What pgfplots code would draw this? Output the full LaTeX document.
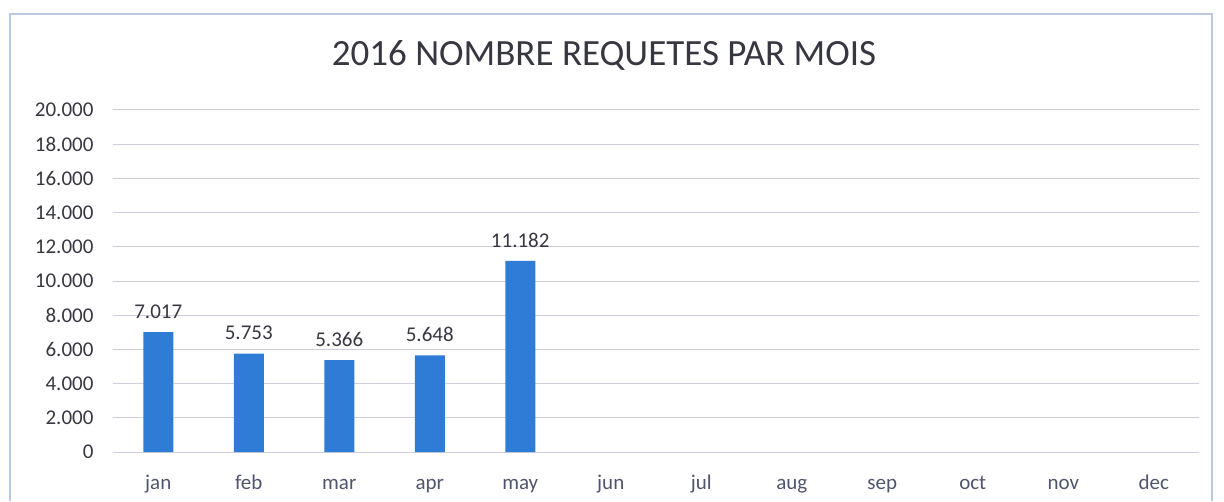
\documentclass[border=0pt]{standalone}
\usepackage{pgfplots}
\pgfplotsset{compat=1.18}
\usepackage{fontspec}
\setmainfont{Carlito}
\definecolor{barblue}{RGB}{46,124,214}
\definecolor{gridc}{RGB}{205,208,218}
\definecolor{txt}{RGB}{55,55,65}
\definecolor{xtxt}{RGB}{80,85,110}
\definecolor{framec}{RGB}{190,200,225}
\begin{document}
\begin{tikzpicture}[x=1pt,y=1pt]
\useasboundingbox (0,0) rectangle (1224,501);
\draw[framec,line width=1.2pt] (10,0) -- (10,487) -- (1212,487) -- (1212,0);
\node[text=txt,font=\fontsize{37}{44}\selectfont] at (604,446) {2016 NOMBRE REQUETES PAR MOIS};
\begin{axis}[
  at={(113pt,49pt)}, anchor=south west,
  scale only axis, width=1086pt, height=342pt,
  xmin=-0.5, xmax=11.5, ymin=0, ymax=20000,
  ybar, bar width=30pt,
  xtick={0,...,11},
  xticklabels={jan,feb,mar,apr,may,jun,jul,aug,sep,oct,nov,dec},
  ytick={0,2000,...,20000},
  scaled y ticks=false,
  /pgf/number format/.cd, 1000 sep={.}, assume math mode=true, /pgfplots/.cd,
  yticklabel style={font=\fontsize{21}{25}\selectfont, text=txt, xshift=-16pt},
  xticklabel style={font=\fontsize{21}{25}\selectfont, text=xtxt, yshift=-20pt, text height=14pt, text depth=5pt},
  major tick length=0pt,
  axis line style={draw=none},
  ymajorgrids, grid style={gridc, line width=1pt},
  nodes near coords,
  every node near coord/.append style={font=\fontsize{21}{25}\selectfont, text=txt, /pgf/number format/1000 sep={.}, yshift=10pt},
]
\addplot[fill=barblue, draw=none] coordinates {(0,7017) (1,5753) (2,5366) (3,5648) (4,11182)};
\end{axis}
\end{tikzpicture}
\end{document}
